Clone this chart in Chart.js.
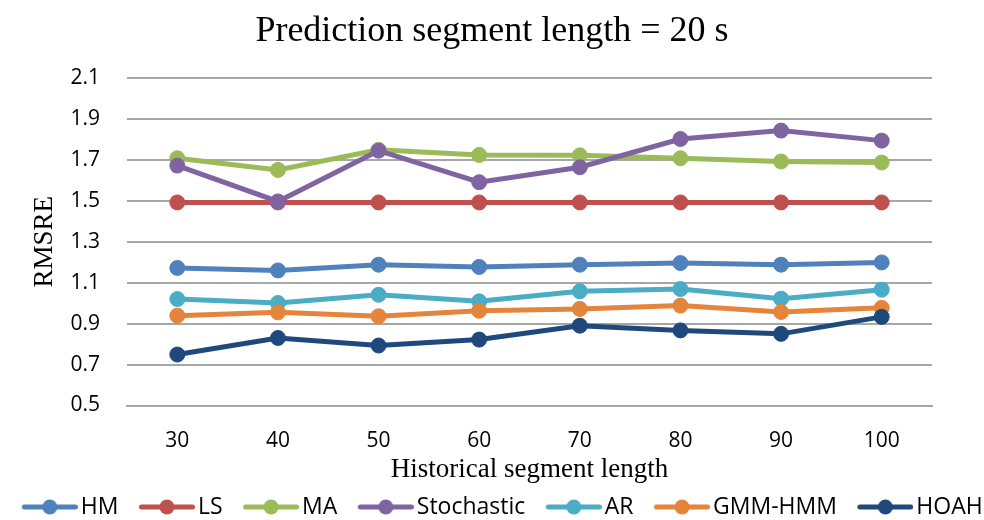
<!DOCTYPE html>
<html>
<head>
<meta charset="utf-8">
<script src="https://cdn.jsdelivr.net/npm/chart.js@4/dist/chart.umd.min.js"></script>
<style>
  html, body { margin: 0; padding: 0; background: #ffffff; }
  #wrap { width: 984px; height: 520px; }
</style>
</head>
<body>
<div id="wrap"><canvas id="c" width="984" height="520"></canvas></div>
<script>
// Historical segment lengths on the x axis
const historicalLengths = ['30', '40', '50', '60', '70', '80', '90', '100'];

// RMSRE per method for a 20 s prediction segment
const hm         = [1.172, 1.160, 1.188, 1.177, 1.188, 1.196, 1.188, 1.199];
const ls         = [1.492, 1.492, 1.492, 1.492, 1.492, 1.492, 1.492, 1.492];
const ma         = [1.708, 1.651, 1.749, 1.724, 1.722, 1.708, 1.692, 1.687];
const stochastic = [1.672, 1.497, 1.745, 1.591, 1.664, 1.802, 1.843, 1.794];
const ar         = [1.020, 1.001, 1.041, 1.009, 1.058, 1.069, 1.022, 1.066];
const gmmHmm     = [0.939, 0.955, 0.936, 0.963, 0.972, 0.988, 0.957, 0.977];
const hoah       = [0.749, 0.830, 0.793, 0.822, 0.890, 0.867, 0.850, 0.933];

// Y axis tick values
const yTicks = [0.5, 0.7, 0.9, 1.1, 1.3, 1.5, 1.7, 1.9, 2.1];

const seriesNames  = ['HM', 'LS', 'MA', 'Stochastic', 'AR', 'GMM-HMM', 'HOAH'];
const seriesValues = [hm, ls, ma, stochastic, ar, gmmHmm, hoah];
const seriesColors = ['#4f81bd', '#c0504d', '#9bbb59', '#8064a2', '#4bacc6', '#e5843b', '#1f497d'];

// Legend swatch: a short line with a round marker in the middle.
// The drawn part sits in the right-hand 56 px of an 85 px canvas so that
// it ends just before the label text.
function makeIcon(color) {
  const cv = document.createElement('canvas');
  cv.width = 85; cv.height = 18;
  const g = cv.getContext('2d');
  g.strokeStyle = color; g.lineWidth = 5; g.lineCap = 'round';
  g.beginPath(); g.moveTo(31.5, 9); g.lineTo(82.5, 9); g.stroke();
  g.fillStyle = color;
  g.beginPath(); g.arc(57, 9, 7.5, 0, Math.PI * 2); g.fill();
  return cv;
}
const icons = seriesColors.map(makeIcon);

const n = seriesNames.length;
const datasets = seriesNames.map((name, i) => ({
  label: name,
  data: seriesValues[i],
  borderColor: seriesColors[i],
  backgroundColor: seriesColors[i],
  pointBackgroundColor: seriesColors[i],
  pointBorderColor: seriesColors[i],
  borderWidth: 5,
  pointRadius: 7.5,
  pointBorderWidth: 1,
  pointHoverRadius: 7.5,
  tension: 0,
  // later series are painted on top
  order: n - i
}));

const sansFont = "'Open Sans', 'Noto Sans', sans-serif";
const serifFont = "'Liberation Serif', 'DejaVu Serif', serif";
const tickFont = { family: sansFont, size: 21 };

new Chart(document.getElementById('c'), {
  type: 'line',
  data: { labels: historicalLengths, datasets },
  options: {
    responsive: false,
    animation: false,
    layout: { padding: { top: 0, left: 0, right: 0, bottom: -8.5 } },
    plugins: {
      tooltip: { enabled: false },
      title: {
        display: true,
        text: 'Prediction segment length = 20 s',
        color: '#000',
        font: { family: serifFont, size: 36, weight: 'normal', lineHeight: 1.2 },
        padding: { top: 10.4, bottom: 24.4 }
      },
      legend: {
        position: 'bottom',
        align: 'center',
        labels: {
          color: '#000',
          font: { family: sansFont, size: 23 },
          usePointStyle: true,
          pointStyleWidth: 68,
          boxHeight: 18,
          padding: 0,
          generateLabels: (chart) => chart.data.datasets.map((ds, i) => ({
            text: ds.label,
            fillStyle: ds.borderColor,
            strokeStyle: ds.borderColor,
            lineWidth: 0,
            pointStyle: icons[i],
            hidden: false,
            datasetIndex: i,
            fontColor: '#000'
          }))
        }
      }
    },
    scales: {
      x: {
        offset: true,
        grid: { display: false, drawTicks: false, offset: true },
        border: { display: true, color: '#a6a6a6', width: 2 },
        ticks: { color: '#000', font: tickFont, padding: 23 },
        title: {
          display: true,
          text: 'Historical segment length',
          color: '#000',
          font: { family: serifFont, size: 27, lineHeight: 1.2 },
          padding: { top: 0, bottom: 9.8 }
        },
        afterFit: (s) => { s.height = 90; }
      },
      y: {
        min: 0.5,
        max: 2.1,
        afterBuildTicks: (axis) => { axis.ticks = yTicks.map(v => ({ value: v })); },
        grid: { color: '#a6a6a6', lineWidth: 2, drawTicks: false },
        border: { display: false },
        ticks: {
          color: '#000',
          font: tickFont,
          padding: 27,
          callback: (v) => Number(v).toFixed(1)
        },
        title: {
          display: true,
          text: 'RMSRE',
          color: '#000',
          font: { family: serifFont, size: 27, lineHeight: 1.2 },
          padding: { top: 29, bottom: 8 }
        },
        afterFit: (s) => { s.width = 127; }
      },
      // empty right-hand margin axis
      yRight: {
        position: 'right',
        display: true,
        grid: { display: false, drawTicks: false },
        border: { display: false },
        ticks: { display: false },
        afterFit: (s) => { s.width = 52; }
      }
    }
  }
});
</script>
</body>
</html>
